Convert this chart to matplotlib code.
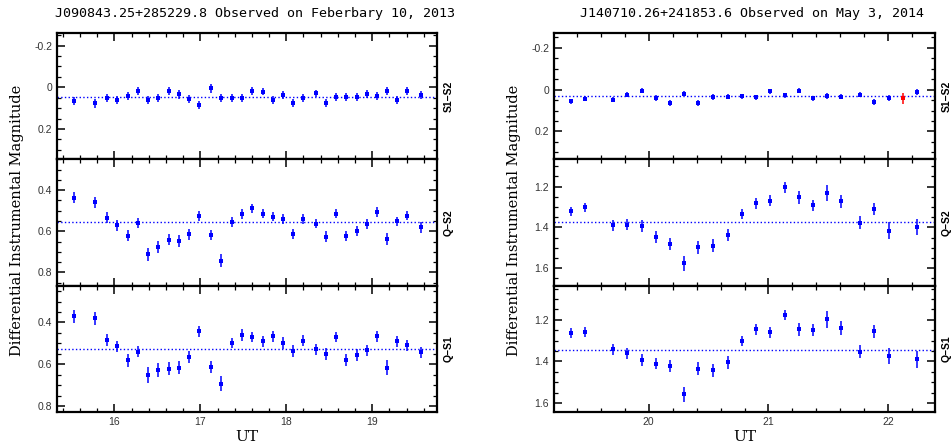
import matplotlib
matplotlib.use('Agg')
import matplotlib.pyplot as plt
from matplotlib.ticker import MultipleLocator

# ---- data ----
# left object: J090843.25+285229.8
ut_left = [15.529, 15.770, 15.918, 16.035, 16.156, 16.272, 16.393, 16.510, 16.630,
           16.751, 16.868, 16.988, 17.128, 17.245, 17.366, 17.482, 17.603, 17.724,
           17.840, 17.961, 18.078, 18.198, 18.342, 18.459, 18.580, 18.700, 18.821,
           18.938, 19.054, 19.175, 19.292, 19.409, 19.564]
s1s2_left = [0.066, 0.077, 0.051, 0.061, 0.042, 0.018, 0.061, 0.050, 0.019, 0.034,
             0.054, 0.085, 0.005, 0.053, 0.053, 0.053, 0.018, 0.021, 0.061, 0.037,
             0.075, 0.051, 0.029, 0.074, 0.048, 0.048, 0.046, 0.032, 0.042, 0.019,
             0.061, 0.018, 0.038]
s1s2_left_err = [0.021, 0.022, 0.020, 0.019, 0.020, 0.019, 0.020, 0.019, 0.019, 0.020,
                 0.019, 0.018, 0.021, 0.019, 0.019, 0.019, 0.018, 0.018, 0.019, 0.018,
                 0.020, 0.019, 0.018, 0.019, 0.019, 0.019, 0.019, 0.018, 0.018, 0.019,
                 0.019, 0.018, 0.019]
qs2_left = [0.437, 0.459, 0.533, 0.571, 0.621, 0.560, 0.712, 0.677, 0.640, 0.646,
            0.614, 0.525, 0.618, 0.742, 0.555, 0.514, 0.488, 0.514, 0.528, 0.538,
            0.613, 0.541, 0.562, 0.626, 0.515, 0.624, 0.598, 0.563, 0.506, 0.638,
            0.552, 0.523, 0.581]
qs2_left_err = [0.026, 0.027, 0.025, 0.025, 0.027, 0.024, 0.032, 0.028, 0.028, 0.029,
                0.027, 0.024, 0.026, 0.031, 0.023, 0.025, 0.022, 0.023, 0.023, 0.024,
                0.026, 0.024, 0.024, 0.026, 0.022, 0.025, 0.025, 0.025, 0.022, 0.030,
                0.024, 0.024, 0.025]
qs1_left = [0.370, 0.379, 0.485, 0.515, 0.582, 0.541, 0.651, 0.629, 0.621, 0.616,
            0.565, 0.443, 0.614, 0.693, 0.499, 0.461, 0.470, 0.491, 0.466, 0.498,
            0.539, 0.488, 0.528, 0.552, 0.470, 0.579, 0.557, 0.534, 0.467, 0.616,
            0.491, 0.509, 0.544]
qs1_left_err = [0.031, 0.031, 0.029, 0.028, 0.031, 0.027, 0.037, 0.033, 0.032, 0.033,
                0.030, 0.026, 0.030, 0.035, 0.025, 0.028, 0.025, 0.027, 0.026, 0.027,
                0.029, 0.027, 0.027, 0.029, 0.025, 0.029, 0.028, 0.028, 0.025, 0.034,
                0.027, 0.027, 0.028]
mean_left = [0.045, 0.557, 0.528]

# right object: J140710.26+241853.6
ut_right = [19.351, 19.468, 19.702, 19.822, 19.942, 20.061, 20.178, 20.295, 20.415,
            20.540, 20.660, 20.777, 20.897, 21.014, 21.134, 21.251, 21.370, 21.487,
            21.607, 21.766, 21.883, 22.003, 22.240]
s1s2_right = [0.056, 0.044, 0.048, 0.024, 0.005, 0.040, 0.063, 0.019, 0.066, 0.035,
              0.034, 0.031, 0.037, 0.008, 0.026, 0.005, 0.042, 0.032, 0.034, 0.024,
              0.061, 0.040, 0.013]
s1s2_right_err = [0.013, 0.012, 0.013, 0.012, 0.012, 0.013, 0.014, 0.012, 0.014, 0.013,
                  0.013, 0.012, 0.013, 0.012, 0.012, 0.013, 0.013, 0.014, 0.013, 0.012,
                  0.014, 0.014, 0.014]
# outlier marked in red in the S1-S2 panel (no Q value at this time)
ut_red = [22.123]
s1s2_red = [0.042]
s1s2_red_err = [0.027]
qs2_right = [1.321, 1.302, 1.389, 1.386, 1.395, 1.447, 1.482, 1.577, 1.498, 1.489,
             1.437, 1.334, 1.281, 1.269, 1.202, 1.252, 1.292, 1.231, 1.271, 1.377,
             1.311, 1.416, 1.398]
qs2_right_err = [0.023, 0.024, 0.027, 0.025, 0.029, 0.028, 0.030, 0.037, 0.032, 0.031,
                 0.030, 0.023, 0.027, 0.028, 0.027, 0.033, 0.028, 0.040, 0.032, 0.032,
                 0.030, 0.040, 0.041]
qs1_right = [1.263, 1.260, 1.342, 1.360, 1.394, 1.410, 1.421, 1.558, 1.434, 1.442,
             1.405, 1.303, 1.245, 1.261, 1.177, 1.245, 1.250, 1.198, 1.239, 1.353,
             1.255, 1.374, 1.390]
qs1_right_err = [0.024, 0.024, 0.028, 0.026, 0.030, 0.028, 0.030, 0.035, 0.032, 0.032,
                 0.031, 0.024, 0.026, 0.028, 0.026, 0.032, 0.028, 0.040, 0.032, 0.032,
                 0.032, 0.040, 0.041]
mean_right = [0.032, 1.376, 1.343]

titles = ['J090843.25+285229.8 Observed on Feberbary 10, 2013',
          'J140710.26+241853.6 Observed on May 3, 2014']
panel_names = ['S1\u2212S2', 'Q\u2212S2', 'Q\u2212S1']

# ---- figure ----
W, H = 951, 448
fig = plt.figure(figsize=(W / 100, H / 100), dpi=100, facecolor='w')

def fx(px):
    return px / W

def fy(py):
    return 1 - py / H

top, bot = 33, 412
ph = (bot - top) / 3.0
cols = [(57, 437), (554, 935)]
xlims = [(15.333, 19.753), (19.21, 22.39)]
ylims = [[(0.345, -0.26), (0.864, 0.25), (0.829, 0.224)],
         [(0.333, -0.27), (1.686, 1.066), (1.643, 1.036)]]

blue = '#0000ff'
tickcol = '#333333'

data = [
    [(ut_left, s1s2_left, s1s2_left_err), (ut_left, qs2_left, qs2_left_err),
     (ut_left, qs1_left, qs1_left_err)],
    [(ut_right, s1s2_right, s1s2_right_err), (ut_right, qs2_right, qs2_right_err),
     (ut_right, qs1_right, qs1_right_err)],
]
means = [mean_left, mean_right]

for c, (x0, x1) in enumerate(cols):
    for r in range(3):
        y0 = top + r * ph
        ax = fig.add_axes([fx(x0), fy(y0 + ph), fx(x1 - x0), ph / H])
        xs, ys, es = data[c][r]
        ax.errorbar(xs, ys, yerr=es, fmt='s', color=blue, ms=3.0, mew=0,
                    elinewidth=1.1, capsize=2.2, capthick=1.1)
        if c == 1 and r == 0:
            ax.errorbar(ut_red, s1s2_red, yerr=s1s2_red_err, fmt='s', color='red',
                        ms=3.0, mew=0, elinewidth=1.1, capsize=2.2, capthick=1.1)
        ax.axhline(means[c][r], color=blue, ls=':', lw=1.0)
        ax.set_xlim(*xlims[c])
        ax.set_ylim(*ylims[c][r])
        ax.xaxis.set_major_locator(MultipleLocator(1))
        ax.xaxis.set_minor_locator(MultipleLocator(0.2))
        ax.yaxis.set_major_locator(MultipleLocator(0.2))
        ax.yaxis.set_minor_locator(MultipleLocator(0.05))
        ax.tick_params(which='both', direction='in', top=True, right=True,
                       color='black', labelcolor=tickcol, labelsize=7.5)
        ax.tick_params(which='major', length=6, width=1.1)
        ax.tick_params(which='minor', length=3, width=0.9)
        for lab in ax.get_xticklabels() + ax.get_yticklabels():
            lab.set_fontfamily('Liberation Sans')
        ax.yaxis.set_major_formatter(plt.FuncFormatter(
            lambda v, p: '%g' % round(v, 2) if abs(v) > 1e-9 else '0'))
        for s in ax.spines.values():
            s.set_linewidth(1.6)
        if r < 2:
            ax.tick_params(labelbottom=False)
        else:
            ax.set_xlabel('UT', family='DejaVu Serif', fontsize=11, labelpad=2)
        ax.text(1.03, 0.5, panel_names[r], transform=ax.transAxes, rotation=90,
                ha='center', va='center', fontsize=7.5, fontweight='bold',
                family='Liberation Sans')
    fig.text(fx((x0 + x1) / 2 + 8), fy(14), titles[c], family='DejaVu Sans Mono',
             fontsize=9.6, ha='center', va='center')
    fig.text(fx(x0 - 40), fy(220), 'Differential Instrumental Magnitude',
             family='DejaVu Serif', fontsize=10.5, rotation=90,
             ha='center', va='center')

fig.savefig('out.png', dpi=100)
